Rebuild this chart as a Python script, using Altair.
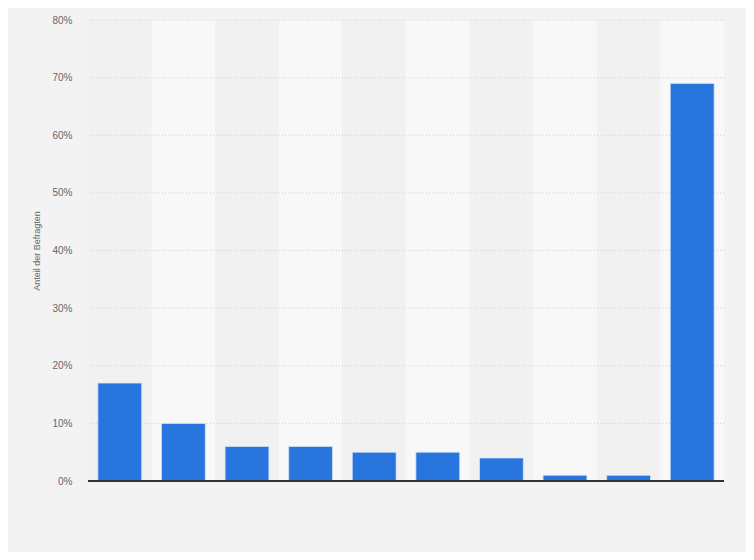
import altair as alt
import pandas as pd

categories = ["Kategorie 1", "Kategorie 2", "Kategorie 3", "Kategorie 4", "Kategorie 5",
              "Kategorie 6", "Kategorie 7", "Kategorie 8", "Kategorie 9", "Kategorie 10"]
values = [17, 10, 6, 6, 5, 5, 4, 1, 1, 69]
band_shade = ["dark", "light", "dark", "light", "dark", "light", "dark", "light", "dark", "light"]
y_ticks = [10, 20, 30, 40, 50, 60, 70, 80]

df = pd.DataFrame({"cat": categories, "val": values, "shade": band_shade, "top": [80] * 10, "zero": [0] * 10})
grid_df = pd.DataFrame({"g": y_ticks})

xscale = alt.Scale(paddingInner=0, paddingOuter=0)
yscale = alt.Scale(domain=[0, 80], nice=False)
xaxis = alt.Axis(labels=False, ticks=False, title=None, domain=False, grid=False)

bands = alt.Chart(df).mark_rect().encode(
    x=alt.X("cat:N", sort=categories, scale=xscale, axis=xaxis),
    y=alt.Y("top:Q", scale=yscale),
    y2="zero:Q",
    color=alt.Color("shade:N", scale=alt.Scale(domain=["dark", "light"], range=["#f1f1f1", "#f8f8f8"]), legend=None),
)

grid = alt.Chart(grid_df).mark_rule(color="#d0d0d0", strokeDash=[1, 2], strokeWidth=1).encode(
    y=alt.Y("g:Q", scale=yscale),
)

bars = alt.Chart(df).mark_bar(
    width=alt.RelativeBandSize(0.69), color="#2876dd", stroke="#d6e4f7", strokeWidth=0.8
).encode(
    x=alt.X("cat:N", sort=categories, scale=xscale, axis=xaxis),
    y=alt.Y("val:Q", scale=yscale,
            axis=alt.Axis(values=[0] + y_ticks,
                          labelExpr="datum.value + '%'",
                          title="Anteil der Befragten", titleFontSize=9, titleColor="#666666",
                          titleFontWeight="normal", titlePadding=10, titleFont="Arial",
                          labelFont="Arial", labelFontSize=10, labelColor="#666666",
                          labelPadding=16, ticks=False, domain=False, grid=False)),
)

baseline = alt.Chart(df).mark_rule(color="#333333", strokeWidth=1.5).encode(
    y=alt.Y("zero:Q", scale=yscale),
)

chart = alt.layer(bands, grid, bars, baseline).properties(
    width=636, height=461,
    padding={"left": 80, "top": 12, "right": 22, "bottom": 71},
    autosize=alt.AutoSizeParams(type="none"),
    background="#f3f3f3",
).configure_view(stroke=None)

chart.save("out.html", embed_options={"renderer": "svg", "actions": False})
